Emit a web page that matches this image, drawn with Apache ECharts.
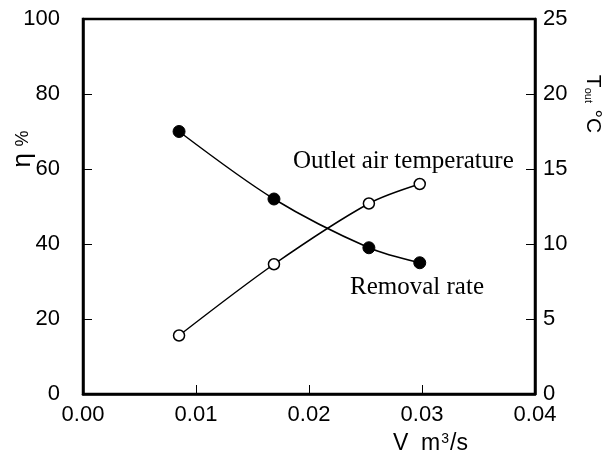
<!DOCTYPE html>
<html><head><meta charset="utf-8">
<script src="https://cdn.jsdelivr.net/npm/echarts@6/dist/echarts.min.js"></script>
<style>html,body{margin:0;padding:0;background:#fff}#c{width:615px;height:460px}</style>
</head><body><div id="c"></div>
<script>
const flowRate = [0.0085, 0.0169, 0.0253, 0.0298];
const removalRate = [70, 52, 39, 35];
const outletTemp = [3.9, 8.65, 12.7, 14.0];
const xTicks = [0, 0.01, 0.02, 0.03, 0.04];
const leftTicks = [0, 20, 40, 60, 80, 100];
const rightTicks = [0, 5, 10, 15, 20, 25];

const chart = echarts.init(document.getElementById('c'), null, {renderer: 'canvas'});
const axisFont = {fontFamily: 'Liberation Sans', fontSize: 22, color: '#000'};
const lineStyle = {color: '#000', width: 2.5};
const tick = {show: true, inside: true, length: 9, lineStyle: {color: '#000', width: 1}};
chart.setOption({
  animation: false,
  backgroundColor: '#fff',
  grid: {left: 83, right: 80, top: 19, bottom: 66, show: true, borderColor: '#000', borderWidth: 2.5, backgroundColor: 'transparent'},
  xAxis: {
    type: 'value', min: xTicks[0], max: xTicks[xTicks.length - 1], interval: 0.01,
    axisLine: {show: true, lineStyle: lineStyle},
    axisTick: tick,
    splitLine: {show: false},
    axisLabel: Object.assign({margin: 10, formatter: v => v.toFixed(2)}, axisFont)
  },
  yAxis: [{
    type: 'value', min: leftTicks[0], max: leftTicks[leftTicks.length - 1], interval: 20,
    axisLine: {show: true, lineStyle: lineStyle},
    axisTick: tick,
    splitLine: {show: false},
    axisLabel: Object.assign({margin: 23}, axisFont)
  }, {
    type: 'value', position: 'right', min: rightTicks[0], max: rightTicks[rightTicks.length - 1], interval: 5,
    axisLine: {show: true, lineStyle: lineStyle},
    axisTick: tick,
    splitLine: {show: false},
    axisLabel: Object.assign({margin: 8}, axisFont)
  }],
  series: [{
    name: 'Removal rate', type: 'line', yAxisIndex: 0, smooth: 0.3,
    data: flowRate.map((x, i) => [x, removalRate[i]]),
    symbol: 'circle', symbolSize: 12,
    itemStyle: {color: '#000', borderColor: '#000', borderWidth: 1},
    lineStyle: {color: '#000', width: 1.5}
  }, {
    name: 'Outlet air temperature', type: 'line', yAxisIndex: 1, smooth: 0.3,
    data: flowRate.map((x, i) => [x, outletTemp[i]]),
    symbol: 'circle', symbolSize: 11,
    itemStyle: {color: '#fff', borderColor: '#000', borderWidth: 1.5},
    lineStyle: {color: '#000', width: 1.5}
  }],
  graphic: [
    {type: 'text', x: 293, y: 161, style: {text: 'Outlet air temperature', font: '25px "Liberation Serif"', fill: '#000', verticalAlign: 'middle'}},
    {type: 'text', x: 350, y: 287, style: {text: 'Removal rate', font: '25px "Liberation Serif"', fill: '#000', verticalAlign: 'middle'}},
    {type: 'text', x: 23, y: 149, rotation: Math.PI / 2, style: {
      text: '{e|η}  {p|%}', align: 'center', verticalAlign: 'middle',
      rich: {e: {fontFamily: 'Liberation Sans', fontSize: 26, fill: '#000'}, p: {fontFamily: 'Liberation Sans', fontSize: 18, fill: '#000'}}
    }},
    {type: 'text', x: 593, y: 104, rotation: -Math.PI / 2, style: {
      text: '{t|T}{s|out}  {c|°C}', align: 'center', verticalAlign: 'middle',
      rich: {t: {fontFamily: 'Liberation Sans', fontSize: 21, fill: '#000'}, s: {fontFamily: 'Liberation Sans', fontSize: 11, fill: '#000', verticalAlign: 'bottom', padding: [10, 0, 0, 0]}, c: {fontFamily: 'Liberation Sans', fontSize: 21, fill: '#000'}}
    }},
    {type: 'text', x: 393, y: 444, style: {
      text: '{a|V  m}{b|3}{a|/s}', verticalAlign: 'middle',
      rich: {a: {fontFamily: 'Liberation Sans', fontSize: 23, fill: '#000'}, b: {fontFamily: 'Liberation Sans', fontSize: 14, fill: '#000', verticalAlign: 'top', padding: [0, 1, 10, 1]}}
    }}
  ]
});
</script></body></html>
